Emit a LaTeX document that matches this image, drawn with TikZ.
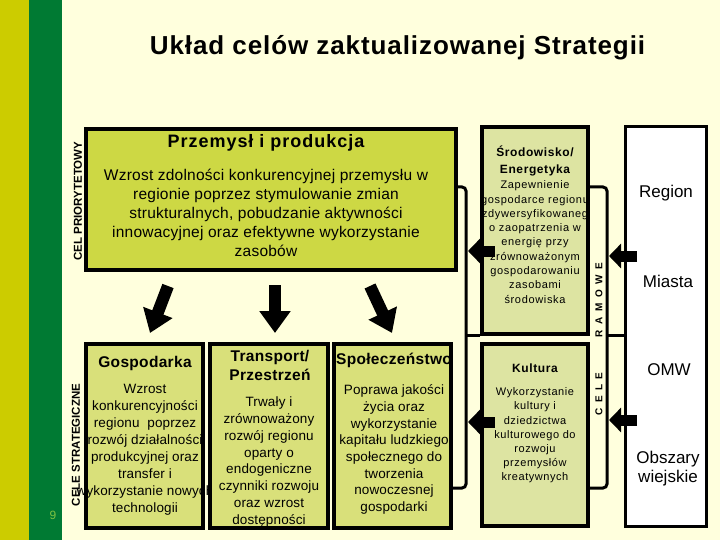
\documentclass[tikz,border=0pt]{standalone}
\usepackage{fontspec}
\setmainfont{Liberation Sans}
\usetikzlibrary{arrows.meta}
\definecolor{bg}{HTML}{FFFFDD}
\definecolor{stripeY}{HTML}{CCCC00}
\definecolor{stripeG}{HTML}{007A33}
\definecolor{topfill}{HTML}{CDD844}
\definecolor{lowfill}{HTML}{D9E07A}
\definecolor{envfill}{HTML}{DDE4A2}
\definecolor{pagenum}{HTML}{7CC242}
\newcommand{\fsz}[2]{\fontsize{#1}{#2}\selectfont}
\newcommand{\lsp}[1]{\addfontfeature{LetterSpace=#1}}
\begin{document}
\begin{tikzpicture}[x=1pt,y=-1pt,
  box/.style={draw=black, line width=3.5pt, inner sep=0pt},
  txt/.style={align=center, inner sep=0pt},
  darrow/.style={line width=12pt, -{Triangle[width=30pt,length=22pt]}},
  harrow/.style={line width=11pt, -{Triangle[width=24pt,length=12pt]}},
  bracket/.style={line width=3pt, rounded corners=4pt}]
\fill[bg] (0,0) rectangle (720,540);
\useasboundingbox (0,0) rectangle (720,540);
\fill[stripeY] (0,0) rectangle (29,540);
\fill[stripeG] (29,0) rectangle (62,540);
\node[txt, text=pagenum, font=\fsz{12}{14}] (pnum) at (53,515) {9};

% title
\node[txt, anchor=base, font=\bfseries\fsz{26}{30}\lsp{3.5}] (title) at (397.5,55) {Układ celów zaktualizowanej Strategii};

% priority goal
\node[box, fill=topfill, minimum width=370pt, minimum height=141pt] (top) at (271,199.5) {};
\node[txt, font=\bfseries\fsz{18}{22}\lsp{5.5}] (toptitle) at (266,143) {Przemysł i produkcja};
\node[txt, font=\fsz{15.5}{19}\lsp{1.5}] (topbody) at (266,213) {Wzrost zdolności konkurencyjnej przemysłu w\\regionie poprzez stymulowanie zmian\\strukturalnych, pobudzanie aktywności\\innowacyjnej oraz efektywne wykorzystanie\\zasobów};
\node[txt, rotate=90, font=\bfseries\fsz{11.5}{14}] (celprio) at (78,201) {CEL PRIORYTETOWY};

% framework goals
\node[box, fill=envfill, minimum width=106pt, minimum height=207pt] (srod) at (535,230.5) {};
\node[txt, font=\bfseries\fsz{12}{17}\lsp{5}] (srodtitle) at (535,161) {Środowisko/\\Energetyka};
\node[txt, font=\fsz{11}{14.3}\lsp{6}] (srodbody) at (535,242) {Zapewnienie\\gospodarce regionu\\zdywersyfikowaneg\\o zaopatrzenia w\\energię przy\\zrównoważonym\\gospodarowaniu\\zasobami\\środowiska};
\node[box, fill=envfill, minimum width=106pt, minimum height=182pt] (kult) at (535,435) {};
\node[txt, font=\bfseries\fsz{12}{15}\lsp{5}] (kulttitle) at (535,368) {Kultura};
\node[txt, font=\fsz{11}{14.2}\lsp{5}] (kultbody) at (535,435.5) {Wykorzystanie\\kultury i\\dziedzictwa\\kulturowego do\\rozwoju\\przemysłów\\kreatywnych};

% region box
\node[box, fill=white, line width=3pt, minimum width=81pt, minimum height=399pt] (reg) at (665.5,326.5) {};
\node[txt, font=\fsz{17}{19}] (tregion) at (666,193) {Region};
\node[txt, font=\fsz{17}{19}] (tmiasta) at (668,281) {Miasta};
\node[txt, font=\fsz{17}{19}] (tomw) at (669,370) {OMW};
\node[txt, font=\fsz{17}{19}] (tobsz) at (668,469) {Obszary\\wiejskie};

% strategic goals
\node[box, fill=lowfill, minimum width=117pt, minimum height=184pt] (gosp) at (144.5,436) {};
\node[txt, font=\bfseries\fsz{15.5}{19}\lsp{2}] (gosptitle) at (145,363) {Gospodarka};
\node[txt, font=\fsz{13.5}{17}\lsp{1}] (gospbody) at (145,449.5) {Wzrost\\konkurencyjności\\regionu \ poprzez\\rozwój działalności\\produkcyjnej oraz\\transfer i\\wykorzystanie nowych\\technologii};
\node[box, fill=lowfill, minimum width=118pt, minimum height=184pt] (trans) at (269,436) {};
\node[txt, font=\bfseries\fsz{15.5}{19}\lsp{2}] (transtitle) at (270,365.5) {Transport/\\Przestrzeń};
\node[txt, font=\fsz{13.5}{16.9}\lsp{1}] (transbody) at (269,462) {Trwały i\\zrównoważony\\rozwój regionu\\oparty o\\endogeniczne\\czynniki rozwoju\\oraz wzrost\\dostępności};
\node[box, fill=lowfill, minimum width=117pt, minimum height=184pt] (spol) at (392.5,436) {};
\node[txt, font=\bfseries\fsz{15.5}{19}\lsp{2}] (spoltitle) at (394,360) {Społeczeństwo};
\node[txt, font=\fsz{13.5}{16.7}\lsp{1}] (spolbody) at (394,449.5) {Poprawa jakości\\życia oraz\\wykorzystanie\\kapitału ludzkiego\\społecznego do\\tworzenia\\nowoczesnej\\gospodarki};
\node[txt, rotate=90, font=\bfseries\fsz{11.5}{14}] (celestr) at (76,445) {CELE STRATEGICZNE};

% CELE RAMOWE label
\node[txt, rotate=90, font=\bfseries\fsz{10}{12}\lsp{55}] (ramowe) at (599,300) {RAMOWE};
\node[txt, rotate=90, font=\bfseries\fsz{10}{12}\lsp{55}] (cele) at (599,394) {CELE};

% down arrows
\coordinate (d1s) at (168,286); \coordinate (d1e) at (150,333);
\coordinate (d2s) at (275,285); \coordinate (d2e) at (275,333);
\coordinate (d3s) at (370,286); \coordinate (d3e) at (392,333);
\draw[darrow] (d1s) -- (d1e);
\draw[darrow] (d2s) -- (d2e);
\draw[darrow] (d3s) -- (d3e);

% brackets
\coordinate (lb1) at (456,187); \coordinate (lb2) at (466,187);
\coordinate (lb3) at (466,488); \coordinate (lb4) at (451,488);
\coordinate (lbm) at (466,335); \coordinate (lbt) at (480,335);
\draw[bracket] (lb1) -- (lb2) -- (lb3) -- (lb4);
\draw[line width=3pt] (lbm) -- (lbt);
\coordinate (rb1) at (588,187); \coordinate (rb2) at (607,187);
\coordinate (rb3) at (607,488); \coordinate (rb4) at (588,488);
\coordinate (rbm) at (607,335); \coordinate (rbt) at (624,335);
\draw[bracket] (rb1) -- (rb2) -- (rb3) -- (rb4);
\draw[line width=3pt] (rbm) -- (rbt);

% horizontal arrows
\coordinate (aL1s) at (495,251); \coordinate (aL1) at (468,251);
\coordinate (aL2s) at (495,422); \coordinate (aL2) at (468,422);
\coordinate (aR1s) at (637,256); \coordinate (aR1) at (609,256);
\coordinate (aR2s) at (637,420); \coordinate (aR2) at (609,420);
\draw[harrow] (aL1s) -- (aL1);
\draw[harrow] (aL2s) -- (aL2);
\draw[harrow] (aR1s) -- (aR1);
\draw[harrow] (aR2s) -- (aR2);
\end{tikzpicture}
\end{document}
